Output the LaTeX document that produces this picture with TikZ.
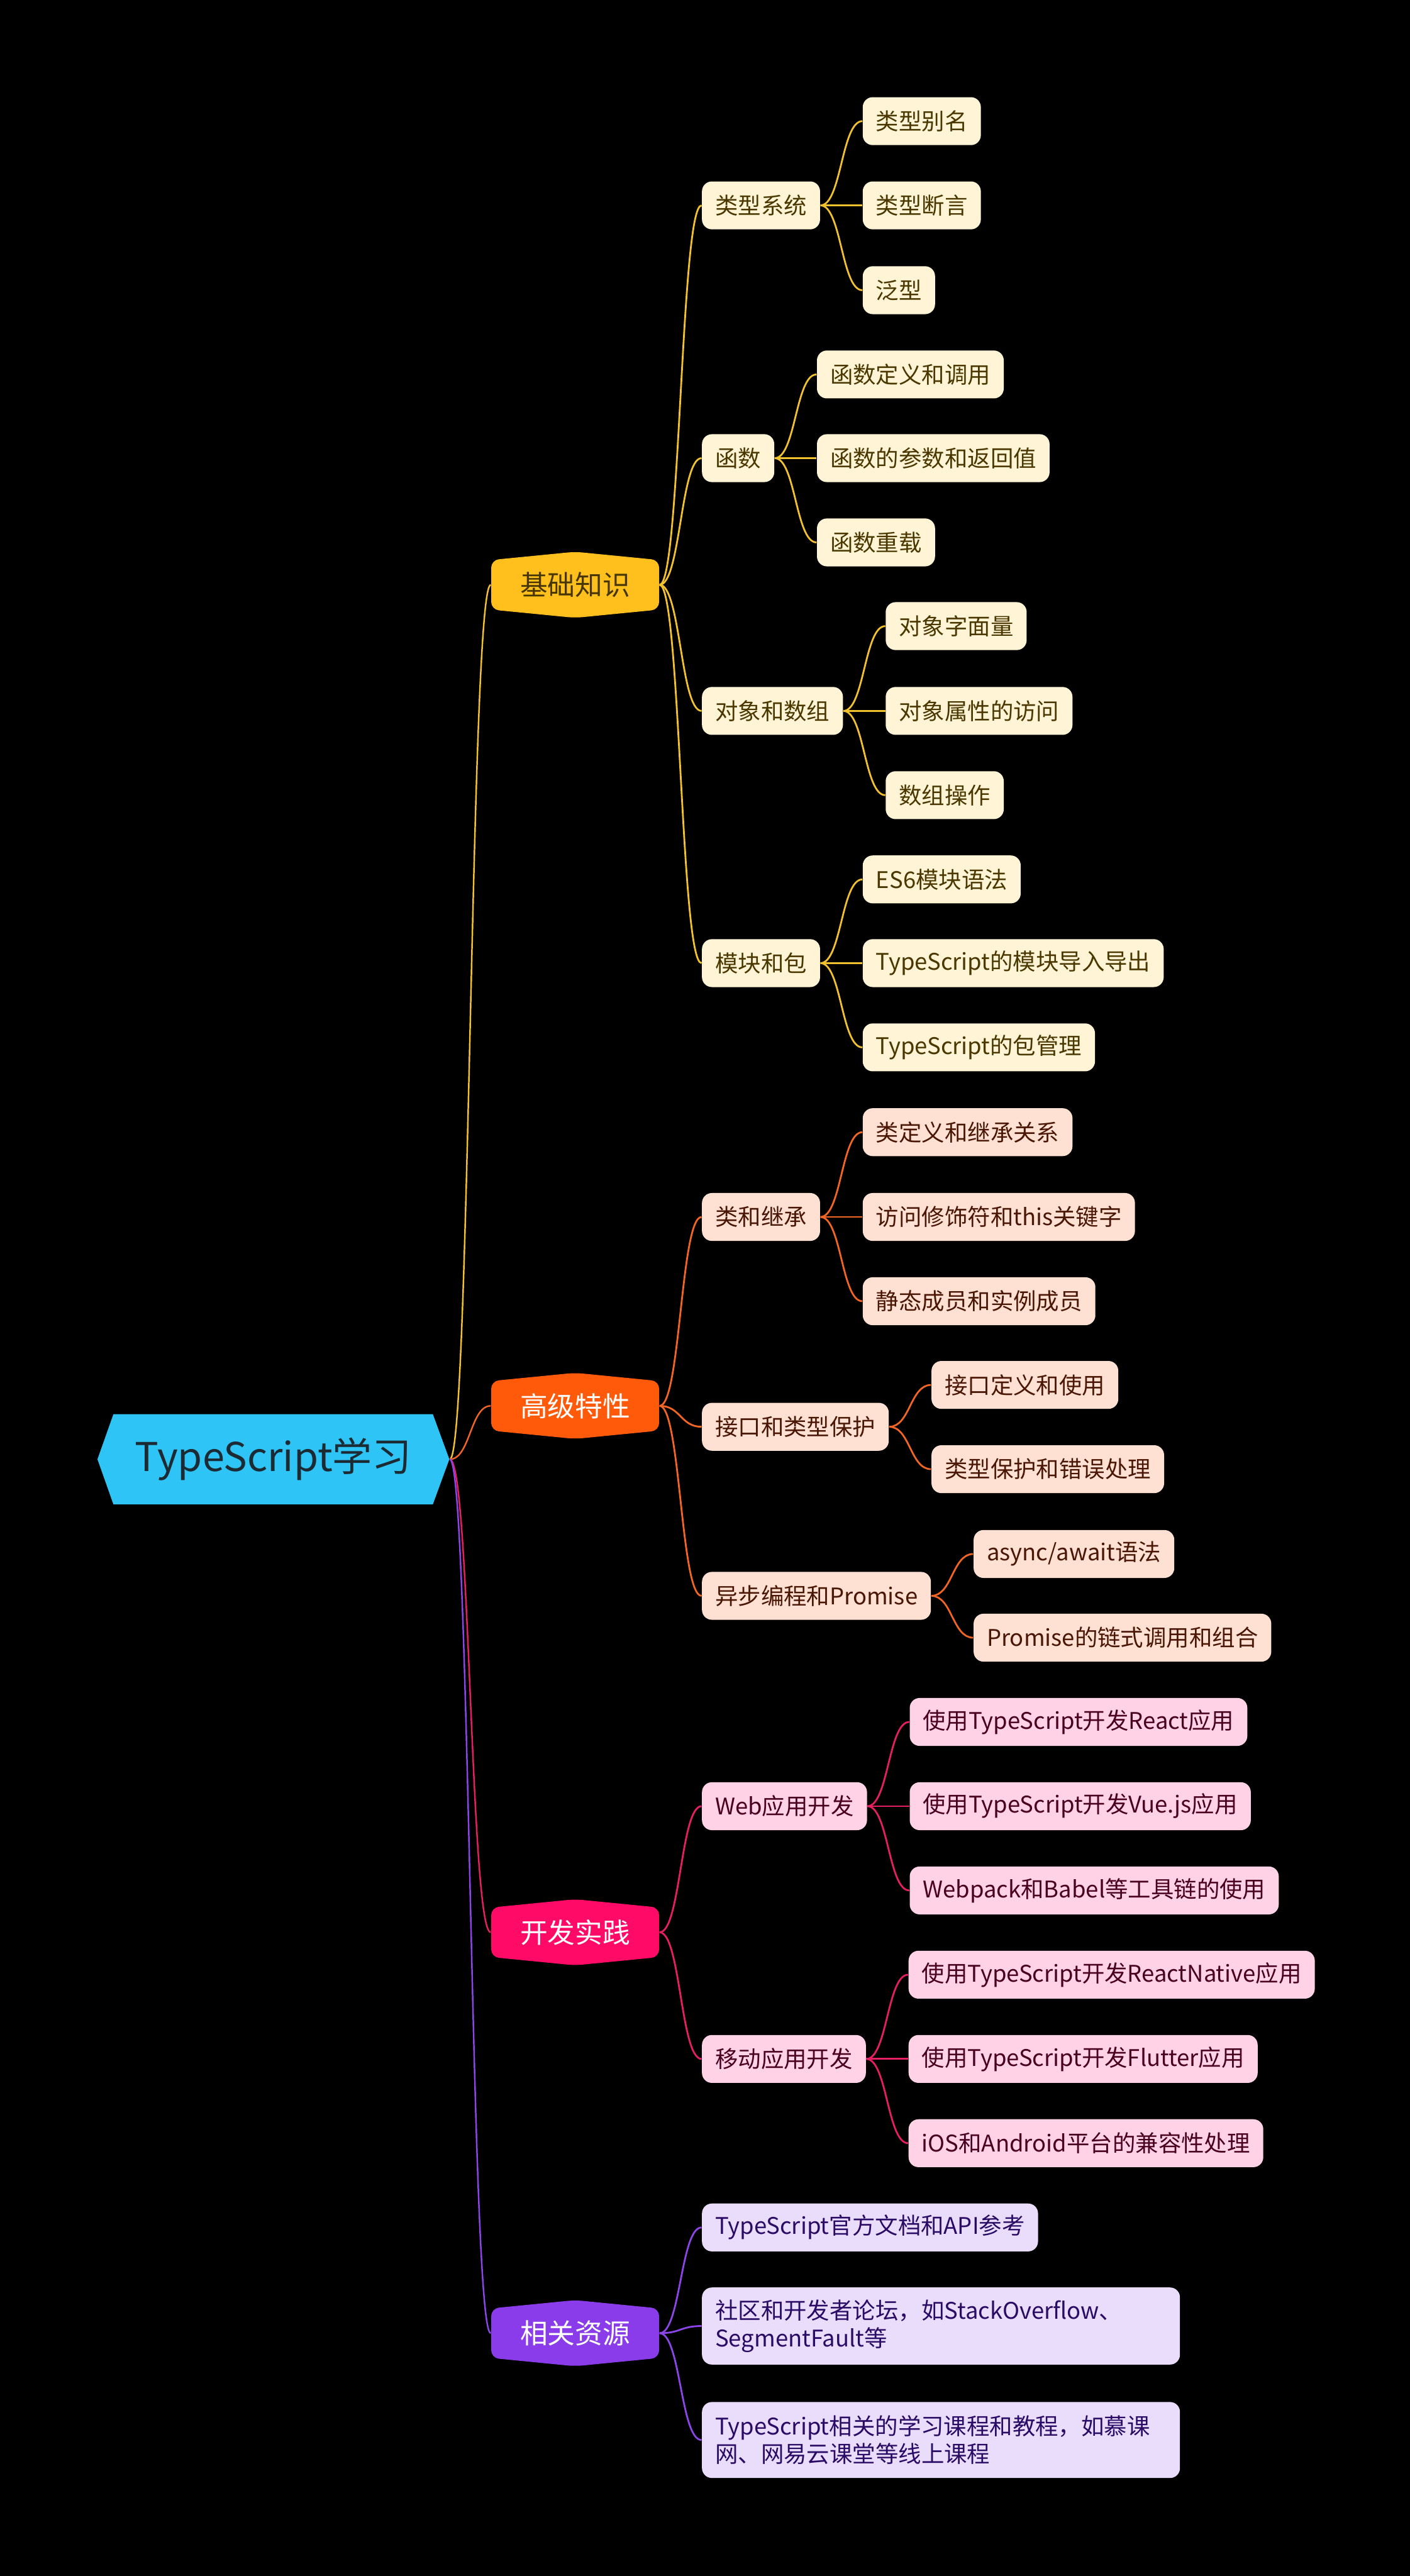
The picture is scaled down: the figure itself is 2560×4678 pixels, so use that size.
\documentclass[tikz,border=0pt]{standalone}
\usepackage{fontspec}
\setmainfont{Noto Sans CJK SC}
\usetikzlibrary{calc}
\definecolor{rootc}{HTML}{2EC5F6}
\definecolor{roottext}{HTML}{1C2B33}
\definecolor{jcfill}{HTML}{FFBF1C}
\definecolor{jctext}{HTML}{463600}
\definecolor{yline}{HTML}{F2C12E}
\definecolor{yfill}{HTML}{FFF4D5}
\definecolor{ytext}{HTML}{4A3800}
\definecolor{gjfill}{HTML}{FF5A0A}
\definecolor{oline}{HTML}{F26522}
\definecolor{ofill}{HTML}{FFE1D3}
\definecolor{otext}{HTML}{4A1605}
\definecolor{kffill}{HTML}{FF0A66}
\definecolor{pline}{HTML}{E61E62}
\definecolor{pfill}{HTML}{FFD3E5}
\definecolor{ptext}{HTML}{4A0020}
\definecolor{zyfill}{HTML}{8A3CEA}
\definecolor{vline}{HTML}{8B45E8}
\definecolor{vfill}{HTML}{E9DDFB}
\definecolor{vtext}{HTML}{2A0B66}
\pgfdeclarelayer{bg}
\pgfdeclarelayer{lines}
\pgfsetlayers{bg,lines,main}
\newcommand\mainnode[5]{%
  \fill[#3, rounded corners=3.5pt] (892,#2-45) -- (1044.5,#2-60) -- (1197,#2-45) -- (1197,#2+45) -- (1044.5,#2+60) -- (892,#2+45) -- cycle;
  \node[l1, text=#4] (#1) at (1044.5,#2) {#5};}
\newcommand\link[3]{\begin{pgfonlayer}{lines}\draw[#1] let \p1=(#2), \p2=(#3) in (\p1) .. controls ({0.5*\x1+0.5*\x2},\y1) and ({0.5*\x1+0.5*\x2},\y2) .. (\p2);\end{pgfonlayer}}
\begin{document}
\begin{tikzpicture}[x=0.25pt,y=-0.25pt,
  every node/.style={font=\fontsize{10.4pt}{12.5pt}\selectfont},
  l1/.style={inner sep=0pt, minimum width=76.25pt, minimum height=22.5pt, font=\fontsize{12.5pt}{14pt}\selectfont},
  box/.style={rectangle, rounded corners=4.5pt, anchor=west, minimum height=21.75pt, inner xsep=6pt, inner ysep=0pt, align=left},
  ybox/.style={box, fill=yfill, text=ytext},
  obox/.style={box, fill=ofill, text=otext},
  pbox/.style={box, fill=pfill, text=ptext},
  vbox/.style={box, fill=vfill, text=vtext},
  yl/.style={draw=yline, line width=0.8pt},
  ol/.style={draw=oline, line width=0.8pt},
  pl/.style={draw=pline, line width=0.8pt},
  vl/.style={draw=vline, line width=0.8pt},
  rl/.style={line width=0.7pt}
  ]
\begin{pgfonlayer}{bg}
\fill[black] (0,0) rectangle (2560,4678);
\end{pgfonlayer}
\useasboundingbox (0,0) rectangle (2560,4678);

% root
\fill[rootc] (177,2650) -- (206,2568) -- (786,2568) -- (816,2650) -- (786,2732) -- (206,2732) -- cycle;
\node[inner sep=0pt, minimum width=159.75pt, minimum height=20pt, text=roottext, font=\fontsize{18pt}{20pt}\selectfont] (root) at (496.5,2650) {TypeScript学习};

% main nodes
\mainnode{jc}{1062}{jcfill}{jctext}{基础知识}
\mainnode{gj}{2553}{gjfill}{white}{高级特性}
\mainnode{kf}{3509}{kffill}{white}{开发实践}
\mainnode{zy}{4237}{zyfill}{white}{相关资源}

% level 2
\node[ybox] (a1) at (1274,373) {类型系统};
\node[ybox] (a2) at (1274,832) {函数};
\node[ybox] (a3) at (1274,1291) {对象和数组};
\node[ybox] (a4) at (1274,1749) {模块和包};
\node[obox] (b1) at (1274,2210) {类和继承};
\node[obox] (b2) at (1274,2591) {接口和类型保护};
\node[obox] (b3) at (1274,2898) {异步编程和Promise};
\node[pbox] (c1) at (1274,3280) {Web应用开发};
\node[pbox] (c2) at (1274,3739) {移动应用开发};
\node[vbox] (d1) at (1274,4045) {TypeScript官方文档和API参考};
\node[vbox, minimum height=35pt, text width=205pt] (d2) at (1274,4224) {社区和开发者论坛，如StackOverflow、\\SegmentFault等};
\node[vbox, minimum height=34.5pt, text width=205pt] (d3) at (1274,4431) {TypeScript相关的学习课程和教程，如慕课\\网、网易云课堂等线上课程};

% level 3
\node[ybox] (a11) at ($(a1.east)+(76,-153)$) {类型别名};
\node[ybox] (a12) at ($(a1.east)+(76,0)$) {类型断言};
\node[ybox] (a13) at ($(a1.east)+(76,154)$) {泛型};
\node[ybox] (a21) at ($(a2.east)+(76,-152)$) {函数定义和调用};
\node[ybox] (a22) at ($(a2.east)+(76,0)$) {函数的参数和返回值};
\node[ybox] (a23) at ($(a2.east)+(76,153)$) {函数重载};
\node[ybox] (a31) at ($(a3.east)+(76,-154)$) {对象字面量};
\node[ybox] (a32) at ($(a3.east)+(76,0)$) {对象属性的访问};
\node[ybox] (a33) at ($(a3.east)+(76,153)$) {数组操作};
\node[ybox] (a41) at ($(a4.east)+(76,-152)$) {ES6模块语法};
\node[ybox] (a42) at ($(a4.east)+(76,0)$) {TypeScript的模块导入导出};
\node[ybox] (a43) at ($(a4.east)+(76,153)$) {TypeScript的包管理};
\node[obox] (b11) at ($(b1.east)+(76,-154)$) {类定义和继承关系};
\node[obox] (b12) at ($(b1.east)+(76,0)$) {访问修饰符和this关键字};
\node[obox] (b13) at ($(b1.east)+(76,153)$) {静态成员和实例成员};
\node[obox] (b21) at ($(b2.east)+(76,-76)$) {接口定义和使用};
\node[obox] (b22) at ($(b2.east)+(76,77)$) {类型保护和错误处理};
\node[obox] (b31) at ($(b3.east)+(76,-76)$) {async/await语法};
\node[obox] (b32) at ($(b3.east)+(76,76)$) {Promise的链式调用和组合};
\node[pbox] (c11) at ($(c1.east)+(76,-153)$) {使用TypeScript开发React应用};
\node[pbox] (c12) at ($(c1.east)+(76,0)$) {使用TypeScript开发Vue.js应用};
\node[pbox] (c13) at ($(c1.east)+(76,153)$) {Webpack和Babel等工具链的使用};
\node[pbox] (c21) at ($(c2.east)+(76,-153)$) {使用TypeScript开发ReactNative应用};
\node[pbox] (c22) at ($(c2.east)+(76,0)$) {使用TypeScript开发Flutter应用};
\node[pbox] (c23) at ($(c2.east)+(76,153)$) {iOS和Android平台的兼容性处理};

% connectors root
\link{rl,draw=yline}{root.east}{jc.west}
\link{rl,draw=oline}{root.east}{gj.west}
\link{rl,draw=pline}{root.east}{kf.west}
\link{rl,draw=vline}{root.east}{zy.west}
% level1 -> level2
\link{yl}{jc.east}{a1.west}
\link{yl}{jc.east}{a2.west}
\link{yl}{jc.east}{a3.west}
\link{yl}{jc.east}{a4.west}
\link{ol}{gj.east}{b1.west}
\link{ol}{gj.east}{b2.west}
\link{ol}{gj.east}{b3.west}
\link{pl}{kf.east}{c1.west}
\link{pl}{kf.east}{c2.west}
\link{vl}{zy.east}{d1.west}
\link{vl}{zy.east}{d2.west}
\link{vl}{zy.east}{d3.west}
% level2 -> level3
\link{yl}{a1.east}{a11.west}
\link{yl}{a1.east}{a12.west}
\link{yl}{a1.east}{a13.west}
\link{yl}{a2.east}{a21.west}
\link{yl}{a2.east}{a22.west}
\link{yl}{a2.east}{a23.west}
\link{yl}{a3.east}{a31.west}
\link{yl}{a3.east}{a32.west}
\link{yl}{a3.east}{a33.west}
\link{yl}{a4.east}{a41.west}
\link{yl}{a4.east}{a42.west}
\link{yl}{a4.east}{a43.west}
\link{ol}{b1.east}{b11.west}
\link{ol}{b1.east}{b12.west}
\link{ol}{b1.east}{b13.west}
\link{ol}{b2.east}{b21.west}
\link{ol}{b2.east}{b22.west}
\link{ol}{b3.east}{b31.west}
\link{ol}{b3.east}{b32.west}
\link{pl}{c1.east}{c11.west}
\link{pl}{c1.east}{c12.west}
\link{pl}{c1.east}{c13.west}
\link{pl}{c2.east}{c21.west}
\link{pl}{c2.east}{c22.west}
\link{pl}{c2.east}{c23.west}
\end{tikzpicture}
\end{document}
